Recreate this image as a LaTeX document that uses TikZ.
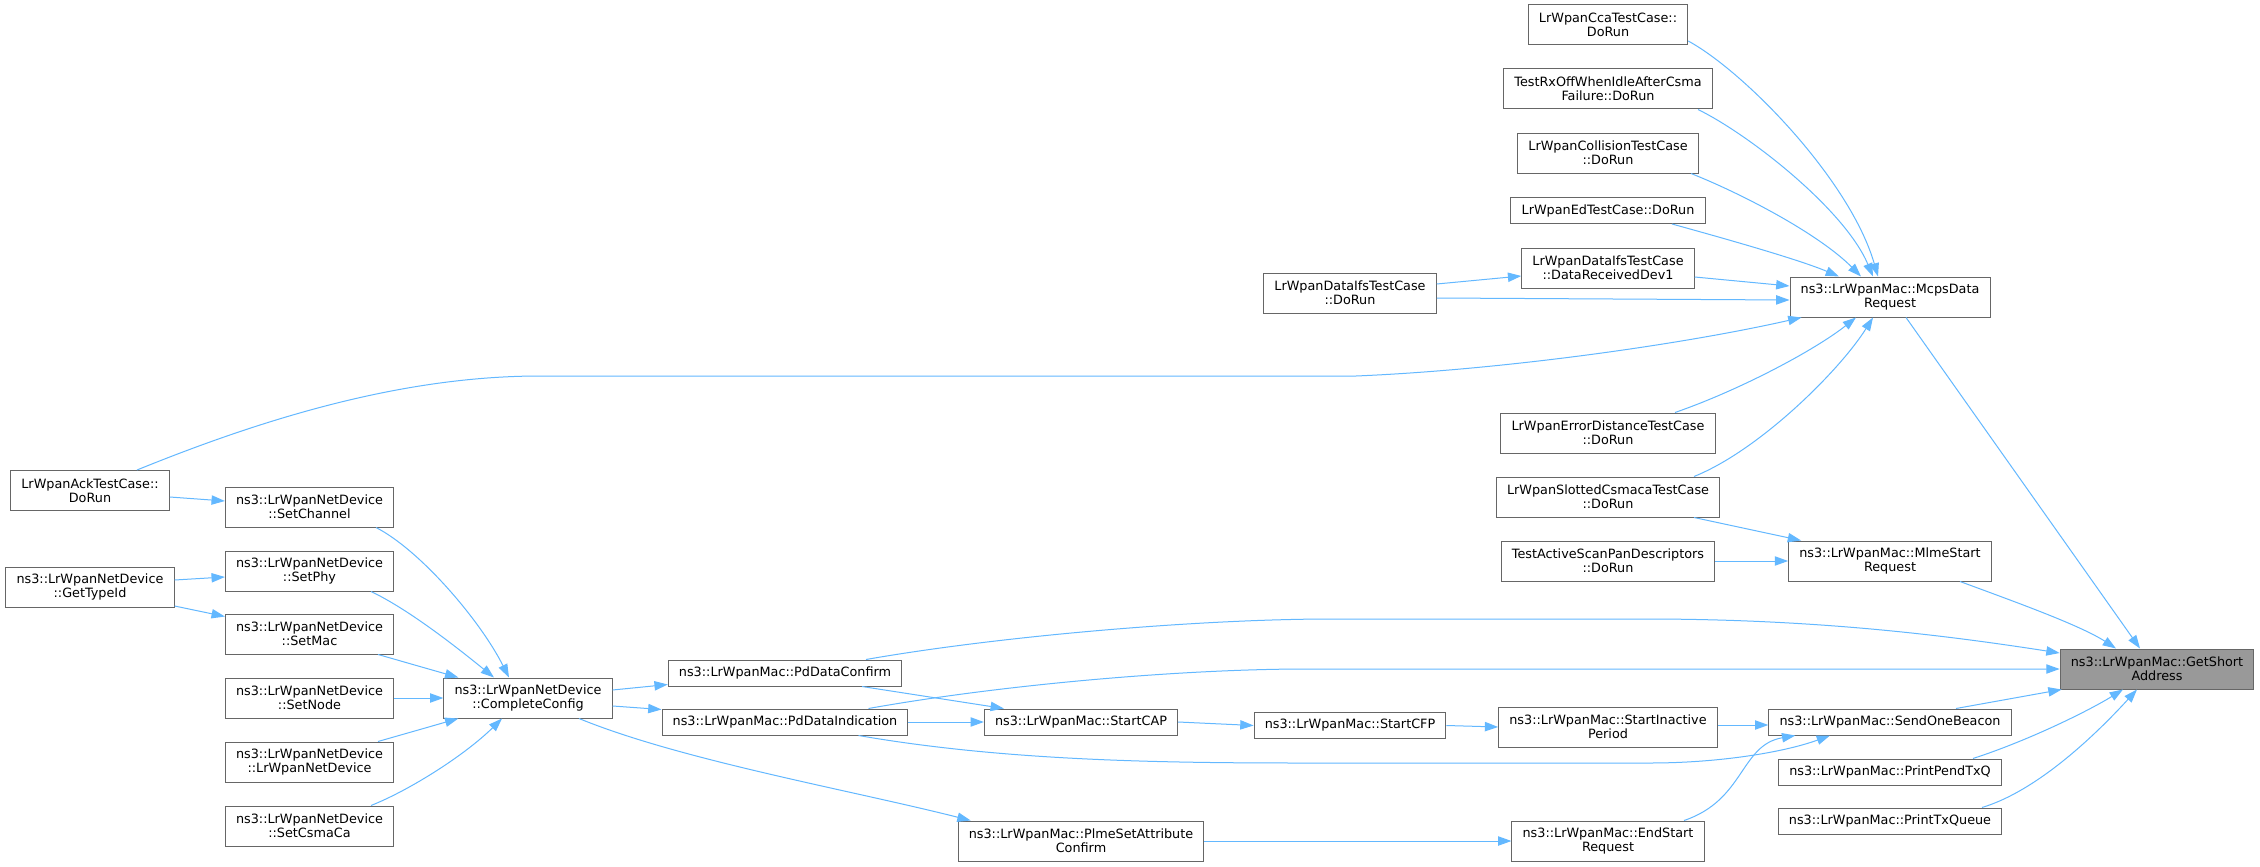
\documentclass[tikz,border=0pt]{standalone}
\usepackage{fontspec}
\setmainfont{DejaVu Sans}
\usepackage{tikz}
\usetikzlibrary{arrows.meta,calc}
\definecolor{edgeblue}{HTML}{63B8FF}
\definecolor{boxgray}{HTML}{666666}
\definecolor{curgray}{HTML}{999999}

\begin{document}
\begin{tikzpicture}[x=0.75pt,y=-0.75pt,
        fn/.style={draw=boxgray,line width=0.75pt,fill=white,align=center,inner xsep=8pt,inner ysep=5pt,
            minimum height=19.5pt,font=\fontsize{9.6}{10.5}\selectfont},
        fn2/.style={fn,minimum height=30pt},
        call/.style={draw=edgeblue,line width=0.75pt,-{Triangle[length=10pt,width=7pt]}}]
        \useasboundingbox[fill=white] (0,0) rectangle (2260,867);

        \node[fn2] (ack) at (90,490.5) {LrWpanAckTestCase::\\DoRun};
        \node[fn2] (typeid) at (90,587) {ns3::LrWpanNetDevice\\::GetTypeId};

        \node[fn2] (setchannel) at (309.5,507) {ns3::LrWpanNetDevice\\::SetChannel};
        \node[fn2] (setphy) at (309.5,571) {ns3::LrWpanNetDevice\\::SetPhy};
        \node[fn2] (setmac) at (309.5,634) {ns3::LrWpanNetDevice\\::SetMac};
        \node[fn2] (setnode) at (309.5,698) {ns3::LrWpanNetDevice\\::SetNode};
        \node[fn2] (netdevice) at (309.5,762) {ns3::LrWpanNetDevice\\::LrWpanNetDevice};
        \node[fn2] (csmaca) at (309.5,826) {ns3::LrWpanNetDevice\\::SetCsmaCa};

        \node[fn2] (complete) at (528,698) {ns3::LrWpanNetDevice\\::CompleteConfig};

        \node[fn] (pdconfirm) at (785,673) {ns3::LrWpanMac::PdDataConfirm};
        \node[fn] (pdind) at (785,722) {ns3::LrWpanMac::PdDataIndication};

        \node[fn] (startcap) at (1081,722) {ns3::LrWpanMac::StartCAP};
        \node[fn2] (plme) at (1081,841) {ns3::LrWpanMac::PlmeSetAttribute\\Confirm};

        \node[fn2] (ifsrun) at (1350,293) {LrWpanDataIfsTestCase\\::DoRun};
        \node[fn] (startcfp) at (1350,725.5) {ns3::LrWpanMac::StartCFP};

        \node[fn2] (cca) at (1608,25) {LrWpanCcaTestCase::\\DoRun};
        \node[fn2] (rxoff) at (1608,89) {TestRxOffWhenIdleAfterCsma\\Failure::DoRun};
        \node[fn2] (collision) at (1608,153) {LrWpanCollisionTestCase\\::DoRun};
        \node[fn] (ed) at (1608,210.5) {LrWpanEdTestCase::DoRun};
        \node[fn2] (dev1) at (1608,268) {LrWpanDataIfsTestCase\\::DataReceivedDev1};
        \node[fn2] (errdist) at (1608,433) {LrWpanErrorDistanceTestCase\\::DoRun};
        \node[fn2] (slotted) at (1608,497) {LrWpanSlottedCsmacaTestCase\\::DoRun};
        \node[fn2] (activescan) at (1608,561) {TestActiveScanPanDescriptors\\::DoRun};
        \node[fn2] (inactive) at (1608,727) {ns3::LrWpanMac::StartInactive\\Period};
        \node[fn2] (endstart) at (1608,841) {ns3::LrWpanMac::EndStart\\Request};

        \node[fn2] (mcps) at (1890,297) {ns3::LrWpanMac::McpsData\\Request};
        \node[fn2] (mlme) at (1890,561) {ns3::LrWpanMac::MlmeStart\\Request};
        \node[fn] (beacon) at (1890,722) {ns3::LrWpanMac::SendOneBeacon};
        \node[fn] (pendtxq) at (1890,772) {ns3::LrWpanMac::PrintPendTxQ};
        \node[fn] (txqueue) at (1890,821) {ns3::LrWpanMac::PrintTxQueue};

        \node[fn2,fill=curgray] (short) at (2157,669) {ns3::LrWpanMac::GetShort\\Address};

        \draw[call] ($(cca.east)+(0,16)$) .. controls (1745,72) and (1850,180) .. ($(mcps.north)+(-12,0)$);
        \draw[call] ($(rxoff.south)+(90,0)$) .. controls (1750,135) and (1845,210) .. ($(mcps.north)+(-17,0)$);
        \draw[call] ($(collision.south)+(83,0)$) .. controls (1745,195) and (1820,235) .. ($(mcps.north)+(-29,0)$);
        \draw[call] ($(ed.south)+(64,0)$) .. controls (1730,240) and (1800,260) .. ($(mcps.north)+(-51,0)$);
        \draw[call] ($(dev1.east)+(0,9)$) -- ($(mcps.west)+(0,-11)$);
        \draw[call] ($(ifsrun.east)+(0,-9)$) -- ($(dev1.west)+(0,8)$);
        \draw[call] ($(ifsrun.east)+(0,5)$) -- ($(mcps.west)+(0,3)$);
        \draw[call] ($(ack.north)+(47,0)$) .. controls (260,420) and (400,376) .. (540,376) -- (1356,376)
            .. controls (1500,370) and (1680,345) .. ($(mcps.south west)+(12,0)$);
        \draw[call] ($(errdist.north)+(67,0)$) .. controls (1740,390) and (1815,350) .. ($(mcps.south)+(-34,0)$);
        \draw[call] ($(slotted.north)+(86,0)$) .. controls (1760,450) and (1840,370) .. ($(mcps.south)+(-17,0)$);
        \draw[call] ($(slotted.south)+(86,0)$) -- ($(mlme.north west)+(13,0)$);
        \draw[call] (activescan.east) -- (mlme.west);
        \draw[call] ($(mcps.south)+(16,0)$) -- ($(short.north)+(-17,0)$);
        \draw[call] ($(mlme.south)+(70,0)$) .. controls (2010,600) and (2080,625) .. ($(short.north)+(-41,0)$);

        \draw[call] ($(ack.east)+(0,6.5)$) -- ($(setchannel.west)+(0,-6)$);
        \draw[call] ($(typeid.east)+(0,-7)$) -- ($(setphy.west)+(0,6)$);
        \draw[call] ($(typeid.east)+(0,19)$) -- ($(setmac.north west)+(0,3)$);
        \draw[call] ($(setchannel.south)+(66.5,0)$) .. controls (420,550) and (480,620) .. ($(complete.north)+(-19,0)$);
        \draw[call] ($(setphy.south)+(61.5,0)$) .. controls (410,610) and (460,650) .. ($(complete.north)+(-34,0)$);
        \draw[call] ($(setmac.south)+(68.5,0)$) -- ($(complete.north west)+(15,0)$);
        \draw[call] (setnode.east) -- (complete.west);
        \draw[call] ($(netdevice.north)+(68.5,0)$) -- ($(complete.south west)+(15,0)$);
        \draw[call] ($(csmaca.north)+(61.5,0)$) .. controls (410,790) and (465,755) .. ($(complete.south)+(-26,0)$);

        \draw[call] ($(complete.east)+(0,-8)$) -- ($(pdconfirm.south west)+(0,-2)$);
        \draw[call] ($(complete.east)+(0,8)$) -- ($(pdind.north west)+(0,1)$);
        \draw[call] ($(complete.south)+(51,0)$) .. controls (680,760) and (850,790) .. ($(plme.north west)+(13,0)$);
        \draw[call] ($(pdconfirm.south)+(77,0)$) -- ($(startcap.north west)+(20,0)$);
        \draw[call] (pdind.east) -- (startcap.west);
        \draw[call] (startcap.east) -- (startcfp.west);
        \draw[call] (startcfp.east) -- (inactive.west);
        \draw[call] ($(inactive.east)+(0,-2)$) -- ($(beacon.west)+(0,3)$);
        \draw[call] ($(pdconfirm.north)+(81,0)$) .. controls (1000,636) and (1200,619) .. (1332,619) -- (1645,619)
            .. controls (1820,619) and (1950,636) .. ($(short.west)+(0,-16)$);
        \draw[call] ($(pdind.north)+(83.5,0)$) .. controls (1000,685) and (1180,669) .. (1307,669) -- (short.west);
        \draw[call] ($(pdind.south)+(73.5,0)$) .. controls (1000,760) and (1150,763) .. (1300,763) -- (1650,763)
            .. controls (1720,763) and (1785,752) .. ($(beacon.south)+(-60,0)$);
        \draw[call] (plme.east) -- (endstart.west);
        \draw[call] ($(endstart.north)+(76,0)$) .. controls (1745,800) and (1740,745) .. ($(beacon.south west)+(27,0)$);
        \draw[call] ($(beacon.north)+(66,0)$) -- ($(short.south west)+(2,0)$);
        \draw[call] ($(pendtxq.north)+(83,0)$) .. controls (2030,740) and (2090,710) .. ($(short.south)+(-34,0)$);
        \draw[call] ($(txqueue.north)+(92,0)$) .. controls (2040,790) and (2100,730) .. ($(short.south)+(-20,0)$);
    \end{tikzpicture}
\end{document}
